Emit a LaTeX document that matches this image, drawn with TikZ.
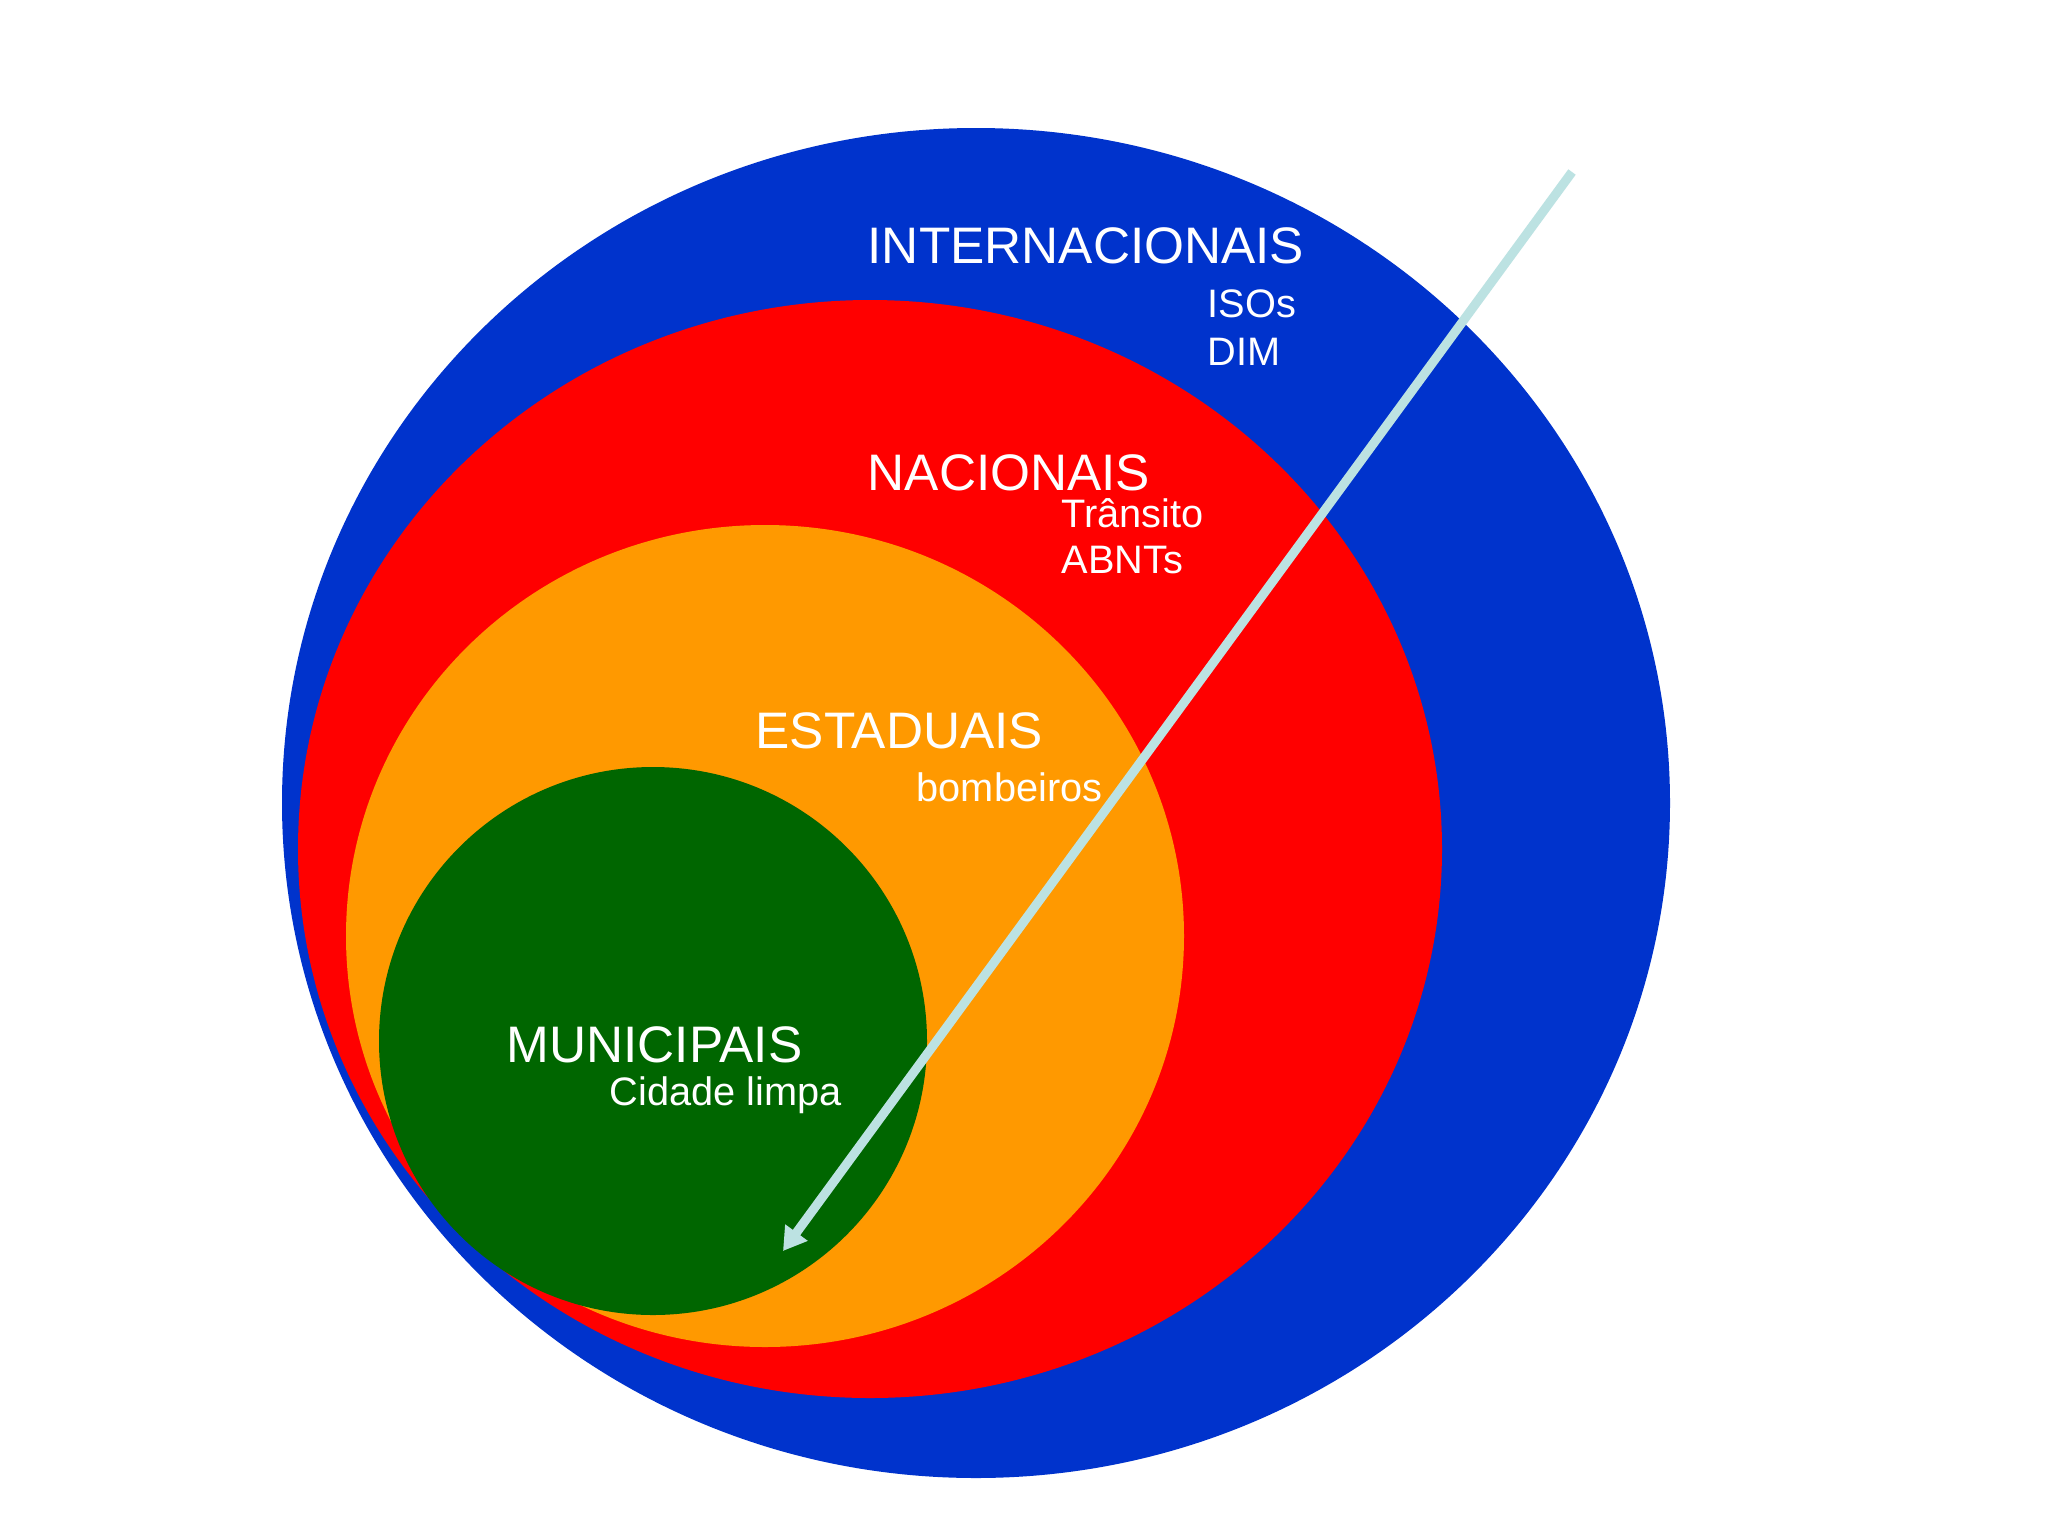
\documentclass[tikz,border=0pt]{standalone}
\usepackage{fontspec}
\setmainfont{Liberation Sans}
\usetikzlibrary{arrows.meta}
\definecolor{intblue}{RGB}{0,51,204}
\definecolor{natred}{RGB}{255,0,0}
\definecolor{estorange}{RGB}{255,153,0}
\definecolor{munigreen}{RGB}{0,102,0}
\definecolor{arrowcyan}{RGB}{188,226,226}
\begin{document}
\begin{tikzpicture}[x=0.01cm,y=-0.01cm,
  big/.style={text=white,anchor=base west,inner sep=0pt,font=\fontsize{14.6pt}{17pt}\selectfont},
  small/.style={text=white,anchor=base west,inner sep=0pt,font=\fontsize{11.3pt}{13pt}\selectfont}]
  \useasboundingbox (0,0) rectangle (2048,1536);
  \fill[white] (0,0) rectangle (2048,1536);
  \fill[intblue] (976,803) ellipse [x radius=694, y radius=675];
  \fill[natred] (870,849) ellipse [x radius=572, y radius=549];
  \fill[estorange] (765,936) ellipse [x radius=419, y radius=411];
  \fill[munigreen] (653,1041) circle (274);
  \node[big] (inter) at (867,263) {INTERNACIONAIS};
  \node[small] (isos) at (1207,317) {ISOs};
  \node[small] (dim) at (1207,365) {DIM};
  \node[big] (nac) at (867,490) {NACIONAIS};
  \node[small] (transito) at (1061,527) {Trânsito};
  \node[small] (abnts) at (1061,573) {ABNTs};
  \node[big] (est) at (755,748) {ESTADUAIS};
  \node[small] (bomb) at (916,801) {bombeiros};
  \node[big] (muni) at (506,1062) {MUNICIPAIS};
  \node[small] (cidade) at (609,1105) {Cidade limpa};
  \coordinate (S) at (1572,172);
  \coordinate (T) at (783,1251);
  \draw[arrowcyan,line width=2.6pt,-{Triangle[length=6.5pt,width=7.5pt]}] (S) -- (T);
\end{tikzpicture}
\end{document}
